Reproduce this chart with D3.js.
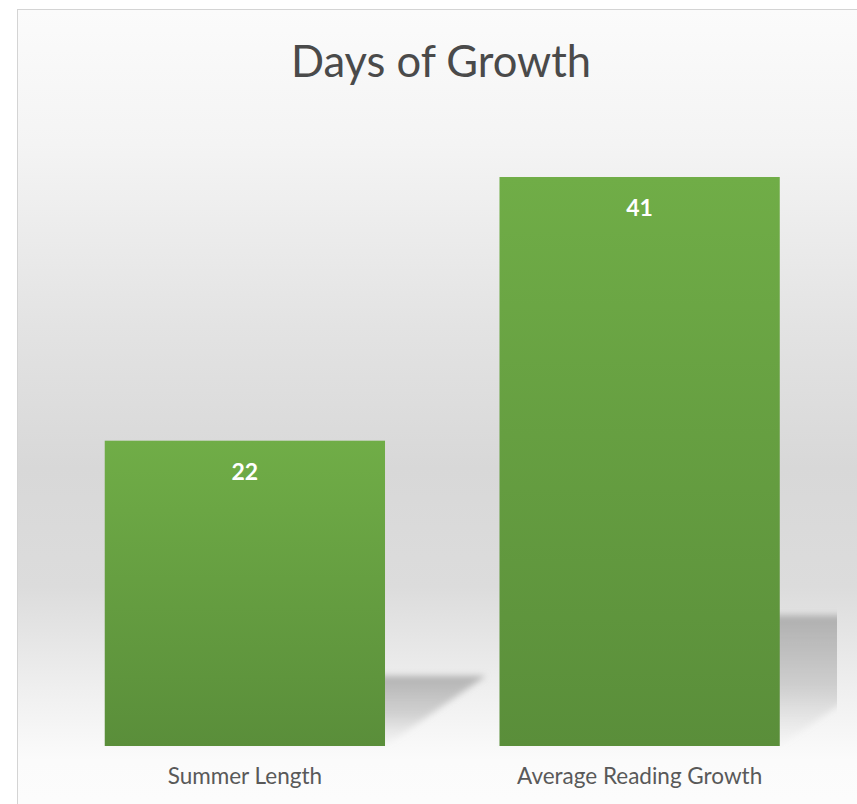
<!DOCTYPE html>
<html>
<head>
<meta charset="utf-8">
<script src="https://cdn.jsdelivr.net/npm/d3@7"></script>
<style>
  body { margin: 0; background: #fff; }
  svg { display: block; font-family: Lato, "Open Sans", sans-serif; }
</style>
</head>
<body>
<svg width="857" height="804"></svg>
<script>
// chart data
var categories = ["Summer Length", "Average Reading Growth"];
var values = [22, 41];
var yDomain = [0, 45];
var title = "Days of Growth";

var svg = d3.select("svg"),
    plot = {left: 47.5, right: 837, top: 121.5, bottom: 746};

var defs = svg.append("defs");

// chart area background: light at top, grey through the middle, light again at the bottom
var bg = defs.append("linearGradient")
    .attr("id", "bg")
    .attr("gradientUnits", "userSpaceOnUse")
    .attr("x1", 0).attr("x2", 0).attr("y1", 10).attr("y2", 800);
[[0, "#fbfbfb"], [0.17, "#f4f4f4"], [0.4, "#e3e3e3"], [0.58, "#d8d8d8"], [0.73, "#dcdcdc"], [0.86, "#efefef"], [0.95, "#fbfbfb"], [1, "#fcfcfc"]]
  .forEach(function(s) { bg.append("stop").attr("offset", s[0]).attr("stop-color", s[1]); });

var barGrad = defs.append("linearGradient")
    .attr("id", "barGrad")
    .attr("x1", 0).attr("x2", 0).attr("y1", 0).attr("y2", 1);
barGrad.append("stop").attr("offset", 0).attr("stop-color", "#70ad47");
barGrad.append("stop").attr("offset", 1).attr("stop-color", "#5a8e3a");

var shadowGrad = defs.append("linearGradient")
    .attr("id", "shadowGrad")
    .attr("x1", 0).attr("x2", 0).attr("y1", 0).attr("y2", 1);
shadowGrad.append("stop").attr("offset", 0).attr("stop-color", "#9a9a9a").attr("stop-opacity", 0.7);
shadowGrad.append("stop").attr("offset", 0.55).attr("stop-color", "#a8a8a8").attr("stop-opacity", 0.45);
shadowGrad.append("stop").attr("offset", 1).attr("stop-color", "#c8c8c8").attr("stop-opacity", 0.05);

defs.append("filter")
    .attr("id", "blur")
    .attr("x", "-20%").attr("y", "-20%").attr("width", "140%").attr("height", "140%")
  .append("feGaussianBlur")
    .attr("stdDeviation", 3);

defs.append("clipPath")
    .attr("id", "plotClip")
  .append("rect")
    .attr("x", plot.left).attr("y", 0)
    .attr("width", plot.right - plot.left).attr("height", plot.bottom + 2);

// chart frame
svg.append("rect")
    .attr("x", 17.5)
    .attr("y", 9.5)
    .attr("width", 900)
    .attr("height", 900)
    .attr("fill", "url(#bg)")
    .attr("stroke", "#d4d4d4");

var x = d3.scaleBand()
    .domain(categories)
    .range([plot.left, plot.right])
    .paddingInner(0.29)
    .paddingOuter(0.145);

var y = d3.scaleLinear()
    .domain(yDomain)
    .range([plot.bottom, plot.top]);

var data = categories.map(function(c, i) { return {name: c, value: values[i]}; });

// perspective shadow behind each bar
svg.append("g")
    .attr("clip-path", "url(#plotClip)")
  .selectAll("path")
  .data(data)
  .enter().append("path")
    .attr("fill", "url(#shadowGrad)")
    .attr("filter", "url(#blur)")
    .attr("d", function(d) {
      var x0 = x(d.name), x1 = x0 + x.bandwidth(),
          h = y(0) - y(d.value),
          sh = h * 0.23, s = sh * 1.44;
      return "M" + x0 + "," + y(0) + "L" + x1 + "," + y(0) +
             "L" + (x1 + s) + "," + (y(0) - sh) + "L" + (x0 + s) + "," + (y(0) - sh) + "Z";
    });

// bars
svg.append("g")
  .selectAll("rect")
  .data(data)
  .enter().append("rect")
    .attr("x", function(d) { return x(d.name); })
    .attr("y", function(d) { return y(d.value); })
    .attr("width", x.bandwidth())
    .attr("height", function(d) { return y(0) - y(d.value); })
    .attr("fill", "url(#barGrad)");

// value labels inside the top of each bar
svg.append("g")
  .selectAll("text")
  .data(data)
  .enter().append("text")
    .attr("x", function(d) { return x(d.name) + x.bandwidth() / 2; })
    .attr("y", function(d) { return y(d.value) + 39; })
    .attr("text-anchor", "middle")
    .attr("fill", "#ffffff")
    .style("font-size", "23px")
    .style("font-weight", "bold")
    .text(function(d) { return d.value; });

// category axis, labels only
var xAxis = svg.append("g")
    .attr("transform", "translate(0," + plot.bottom + ")")
    .call(d3.axisBottom(x).tickSize(0).tickPadding(22));
xAxis.select(".domain").remove();
xAxis.selectAll("text")
    .attr("fill", "#595959")
    .style("font-family", "Lato, sans-serif")
    .style("font-size", "22.5px");

// title
svg.append("text")
    .attr("x", 441)
    .attr("y", 77)
    .attr("text-anchor", "middle")
    .attr("fill", "#4a4a4a")
    .style("font-size", "43.5px")
    .text(title);
</script>
</body>
</html>
